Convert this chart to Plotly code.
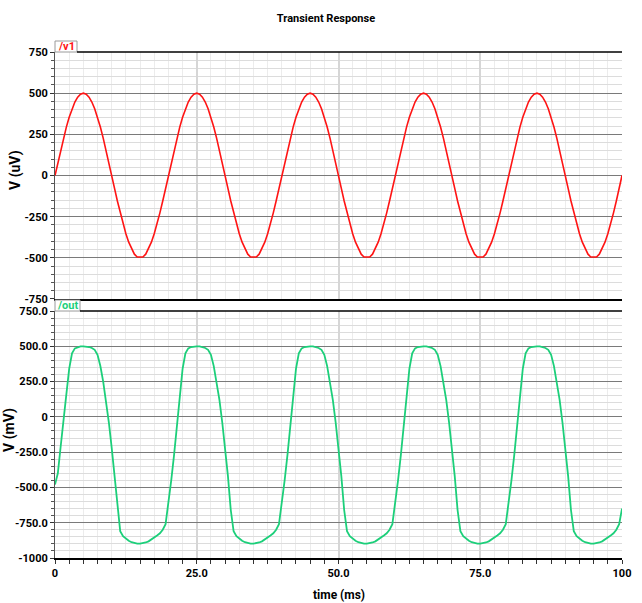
import plotly.graph_objects as go

# ---------------- data ----------------
time_ms = [i * 0.5 for i in range(201)]  # sample instants, 0 .. 100 ms

v1_uV = [
    0, 78, 155, 227, 294, 354, 405, 446, 476, 494, 500, 494, 476, 446, 405, 354, 294, 227, 155, 78,
    0, -78, -155, -227, -294, -354, -405, -446, -478, -495, -496, -495, -478, -446, -405, -354, -294, -227, -155, -78,
    0, 78, 155, 227, 294, 354, 405, 446, 476, 494, 500, 494, 476, 446, 405, 354, 294, 227, 155, 78,
    0, -78, -155, -227, -294, -354, -405, -446, -478, -495, -496, -495, -478, -446, -405, -354, -294, -227, -155, -78,
    0, 78, 155, 227, 294, 354, 405, 446, 476, 494, 500, 494, 476, 446, 405, 354, 294, 227, 155, 78,
    0, -78, -155, -227, -294, -354, -405, -446, -478, -495, -496, -495, -478, -446, -405, -354, -294, -227, -155, -78,
    0, 78, 155, 227, 294, 354, 405, 446, 476, 494, 500, 494, 476, 446, 405, 354, 294, 227, 155, 78,
    0, -78, -155, -227, -294, -354, -405, -446, -478, -495, -496, -495, -478, -446, -405, -354, -294, -227, -155, -78,
    0, 78, 155, 227, 294, 354, 405, 446, 476, 494, 500, 494, 476, 446, 405, 354, 294, 227, 155, 78,
    0, -78, -155, -227, -294, -354, -405, -446, -478, -495, -496, -495, -478, -446, -405, -354, -294, -227, -155, -78,
    0,
]

out_mV = [
    -480, -400, -210, 0, 160, 340, 450, 485, 495, 500, 500, 500, 495, 488, 475, 440, 360, 250, 120, -40,
    -220, -420, -660, -810, -845, -865, -878, -888, -895, -898, -898, -896, -890, -882, -870, -856, -840, -825, -800, -760,
    -620, -450, -270, -60, 160, 340, 450, 485, 495, 500, 500, 500, 495, 488, 475, 440, 360, 250, 120, -40,
    -220, -420, -660, -810, -845, -865, -878, -888, -895, -898, -898, -896, -890, -882, -870, -856, -840, -825, -800, -760,
    -620, -450, -270, -60, 160, 340, 450, 485, 495, 500, 500, 500, 495, 488, 475, 440, 360, 250, 120, -40,
    -220, -420, -660, -810, -845, -865, -878, -888, -895, -898, -898, -896, -890, -882, -870, -856, -840, -825, -800, -760,
    -620, -450, -270, -60, 160, 340, 450, 485, 495, 500, 500, 500, 495, 488, 475, 440, 360, 250, 120, -40,
    -220, -420, -660, -810, -845, -865, -878, -888, -895, -898, -898, -896, -890, -882, -870, -856, -840, -825, -800, -760,
    -620, -450, -270, -60, 160, 340, 450, 485, 495, 500, 500, 500, 495, 488, 475, 440, 360, 250, 120, -40,
    -220, -420, -660, -810, -845, -865, -878, -888, -895, -898, -898, -896, -890, -882, -870, -856, -840, -825, -800, -760,
    -650,
]

x_tickvals = [0, 25, 50, 75, 100]
x_ticktext = ["0", "25.0", "50.0", "75.0", "100"]
top_tickvals = [750, 500, 250, 0, -250, -500, -750]
top_ticktext = ["750", "500", "250", "0", "-250", "-500", "-750"]
bot_tickvals = [750, 500, 250, 0, -250, -500, -750, -1000]
bot_ticktext = ["750.0", "500.0", "250.0", "0", "-250.0", "-500.0", "-750.0", "-1000"]

# ---------------- styling ----------------
FONT = "Roboto, Liberation Sans Narrow, sans-serif"
RED = "#ff1414"
GREEN = "#1ccf7a"
TICKFONT = dict(family=FONT, size=11, color="black", weight="bold")

fig = go.Figure()
fig.add_trace(go.Scatter(x=time_ms, y=v1_uV, mode="lines", line=dict(color=RED, width=1.6),
                         xaxis="x", yaxis="y", name="/v1"))
fig.add_trace(go.Scatter(x=time_ms, y=out_mV, mode="lines", line=dict(color=GREEN, width=1.8),
                         xaxis="x2", yaxis="y2", name="/out"))

TOP_DOM = [0.5119, 1.0]
BOT_DOM = [0.0, 0.4881]


def xaxis_cfg(domain_anchor, show_labels):
    return dict(
        domain=[0, 1], anchor=domain_anchor, automargin=False,
        range=[0, 100], tickmode="array", tickvals=x_tickvals, ticktext=x_ticktext,
        showticklabels=show_labels,
        showgrid=True, gridcolor="#d6d6d6", gridwidth=2, zeroline=False,
        showline=True, linecolor="black", linewidth=2,
        ticks="outside" if show_labels else "", ticklen=4, tickcolor="#333333",
        minor=dict(dtick=2.5, tick0=0, showgrid=True, gridcolor="#ececec", gridwidth=1,
                   ticks="outside" if show_labels else "", ticklen=4, tickcolor="#333333"),
        tickfont=TICKFONT,
    )


def yaxis_cfg(domain, anchor, rng, vals, text):
    return dict(
        domain=domain, anchor=anchor, automargin=False, range=rng,
        tickmode="array", tickvals=vals, ticktext=text,
        showgrid=True, gridcolor="#7a7a7a", gridwidth=1, zeroline=False,
        showline=True, linecolor="#555555", linewidth=1,
        ticks="outside", ticklen=4, tickcolor="#333333",
        minor=dict(dtick=50, tick0=0, showgrid=True, gridcolor="#dcdcdc", gridwidth=1,
                   ticks="outside", ticklen=3, tickcolor="#555555"),
        tickfont=TICKFONT,
    )


fig.update_layout(
    width=642, height=603,
    margin=dict(l=55, r=20, t=52, b=45, autoexpand=False),
    plot_bgcolor="white", paper_bgcolor="white",
    showlegend=False,
    font=dict(family=FONT, color="black"),
    title=dict(text="Transient Response", x=326 / 642, xanchor="center", xref="container",
               y=1 - 18 / 603, yanchor="middle", yref="container",
               font=dict(family=FONT, size=11, color="black", weight="bold")),
    xaxis=xaxis_cfg("y", False),
    xaxis2=xaxis_cfg("y2", True),
    yaxis=yaxis_cfg(TOP_DOM, "x", [-750, 750], top_tickvals, top_ticktext),
    yaxis2=yaxis_cfg(BOT_DOM, "x2", [-1000, 750], bot_tickvals, bot_ticktext),
)

shapes = []
annots = []

# label tabs and top borders
box1_r = 22 / 567
box2_r = 25 / 567
shapes.append(dict(type="rect", xref="paper", yref="paper", x0=0, x1=box1_r, y0=1.0, y1=1.0 + 11 / 506,
                   line=dict(color="#9a9a9a", width=1), fillcolor="white", layer="above"))
shapes.append(dict(type="line", xref="paper", yref="paper", x0=box1_r, x1=1, y0=1.0, y1=1.0,
                   line=dict(color="black", width=1.5), layer="above"))
shapes.append(dict(type="rect", xref="paper", yref="paper", x0=0, x1=box2_r, y0=BOT_DOM[1], y1=BOT_DOM[1] + 11 / 506,
                   line=dict(color="#9a9a9a", width=1), fillcolor="white", layer="above"))
shapes.append(dict(type="line", xref="paper", yref="paper", x0=box2_r, x1=1, y0=BOT_DOM[1], y1=BOT_DOM[1],
                   line=dict(color="black", width=1.5), layer="above"))

annots.append(dict(text="/v1", xref="paper", yref="paper", x=box1_r / 2, y=1.0 + 5.5 / 506,
                   xanchor="center", yanchor="middle", showarrow=False,
                   font=dict(family=FONT, size=11, color=RED, weight="bold")))
annots.append(dict(text="/out", xref="paper", yref="paper", x=box2_r / 2, y=BOT_DOM[1] + 5.5 / 506,
                   xanchor="center", yanchor="middle", showarrow=False,
                   font=dict(family=FONT, size=11, color=GREEN, weight="bold")))

# axis titles
annots.append(dict(text="V (uV)", xref="paper", yref="paper", x=(15 - 55) / 567, y=(558 - 170) / 506,
                   xanchor="center", yanchor="middle", textangle=-90, showarrow=False,
                   font=dict(family=FONT, size=14, color="black", weight="bold")))
annots.append(dict(text="V (mV)", xref="paper", yref="paper", x=(9 - 55) / 567, y=(558 - 430) / 506,
                   xanchor="center", yanchor="middle", textangle=-90, showarrow=False,
                   font=dict(family=FONT, size=14, color="black", weight="bold")))
annots.append(dict(text="time (ms)", xref="paper", yref="paper", x=(339 - 55) / 567, y=(558 - 595) / 506,
                   xanchor="center", yanchor="middle", showarrow=False,
                   font=dict(family=FONT, size=12, color="black", weight="bold")))

fig.update_layout(shapes=shapes, annotations=annots)
fig.write_html("out.html", config={"displayModeBar": False},
               post_script="document.body.style.margin='0';")
